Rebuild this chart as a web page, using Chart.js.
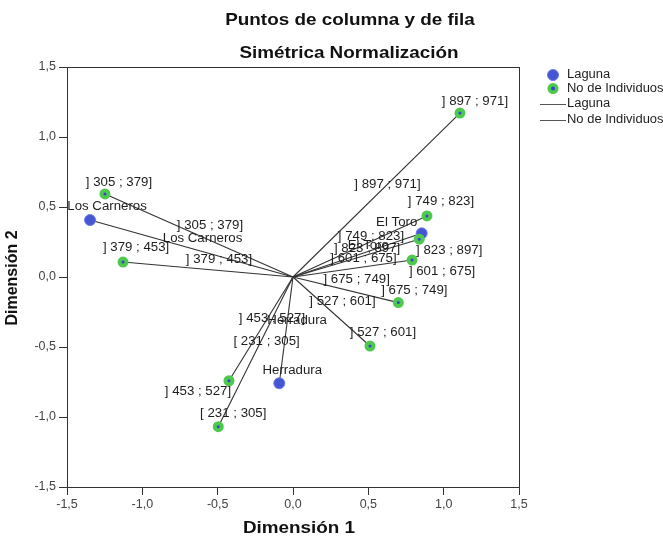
<!DOCTYPE html>
<html>
<head>
<meta charset="utf-8">
<script src="https://cdn.jsdelivr.net/npm/chart.js@4"></script>
<style>
  html, body { margin: 0; padding: 0; background: #fff; }
  #wrap { width: 663px; height: 537px; position: relative; }
</style>
</head>
<body>
<div id="wrap"><canvas id="cc"></canvas></div>
<script>
// row categories (No de Individuos) and their coordinates
const individuos = ['] 897 ; 971]', '] 305 ; 379]', '] 379 ; 453]', '] 749 ; 823]', '] 823 ; 897]',
                    '] 601 ; 675]', '] 675 ; 749]', '] 527 ; 601]', '] 453 ; 527]', '[ 231 ; 305]'];
const indDim1 = [1.108, -1.248, -1.128, 0.889, 0.838, 0.790, 0.699, 0.511, -0.425, -0.496];
const indDim2 = [1.171, 0.593, 0.107, 0.436, 0.270, 0.121, -0.183, -0.493, -0.741, -1.069];

// column categories (Laguna)
const lagunas = ['Los Carneros', 'El Toro', 'Herradura'];
const lagDim1 = [-1.347, 0.854, -0.091];
const lagDim2 = [0.407, 0.312, -0.759];

const axisTicks = [-1.5, -1.0, -0.5, 0.0, 0.5, 1.0, 1.5];

// label nudges (pixels) so the point labels sit like in the original
const indLabelShift = [[15,-12],[14,-11],[13,-14],[14,-14],[30,11],[30,11],[16,-12],[13,-13],[-31,11],[15,-13]];
const lagLabelShift = [[17,-13],[-25,-11],[13,-13]];

const LINE_COL = '#333';
const TEXT_COL = '#1e1e1e';

function stretchText(ctx, txt, x, y, font, sx, align) {
    ctx.save();
    ctx.font = font;
    ctx.textAlign = align || 'center';
    ctx.textBaseline = 'middle';
    ctx.translate(x, y);
    ctx.scale(sx, 1);
    ctx.fillText(txt, 0, 0);
    ctx.restore();
}

const lineSets = [];
individuos.forEach((n, i) => lineSets.push({
    type: 'line', data: [{x: 0, y: 0}, {x: indDim1[i], y: indDim2[i]}],
    borderColor: LINE_COL, borderWidth: 1.1, pointRadius: 0, fill: false, order: 3
}));
lagunas.forEach((n, i) => lineSets.push({
    type: 'line', data: [{x: 0, y: 0}, {x: lagDim1[i], y: lagDim2[i]}],
    borderColor: LINE_COL, borderWidth: 1.1, pointRadius: 0, fill: false, order: 3
}));

const labelsPlugin = {
    id: 'labelsPlugin',
    afterDraw(chart) {
        const ctx = chart.ctx;
        const xs = chart.scales.x, ys = chart.scales.y;
        const a = chart.chartArea;

        // frame round the plot
        ctx.save();
        ctx.strokeStyle = '#333';
        ctx.lineWidth = 1;
        ctx.strokeRect(a.left + 0.5, a.top + 0.5, a.right - a.left, a.bottom - a.top);
        ctx.restore();

        const ox = xs.getPixelForValue(0), oy = ys.getPixelForValue(0);
        const lblFont = '12.5px "Liberation Sans", Arial, sans-serif';
        ctx.fillStyle = TEXT_COL;

        const drawSet = (names, d1, d2, shifts) => {
            names.forEach((n, i) => {
                const px = xs.getPixelForValue(d1[i]), py = ys.getPixelForValue(d2[i]);
                // label at the middle of the line
                stretchText(ctx, n, (px + ox) / 2 + 11, (py + oy) / 2 - 10, lblFont, 1.06);
                // label next to the point
                stretchText(ctx, n, px + shifts[i][0], py + shifts[i][1], lblFont, 1.06);
            });
        };
        drawSet(individuos, indDim1, indDim2, indLabelShift);
        drawSet(lagunas, lagDim1, lagDim2, lagLabelShift);

        // titles
        const tFont = 'bold 17px "Liberation Sans", Arial, sans-serif';
        ctx.fillStyle = '#111';
        stretchText(ctx, 'Puntos de columna y de fila', 350, 20, tFont, 1.11);
        stretchText(ctx, 'Simétrica Normalización', 349, 53, tFont, 1.11);
        stretchText(ctx, 'Dimensión 1', 299, 528, tFont, 1.11);
        ctx.save();
        ctx.translate(13, 278);
        ctx.rotate(-Math.PI / 2);
        ctx.font = 'bold 16px "Liberation Sans", Arial, sans-serif';
        ctx.textAlign = 'center';
        ctx.textBaseline = 'middle';
        ctx.fillText('Dimensión 2', 0, 0);
        ctx.restore();

        // legend
        const lgFont = '12px "Liberation Sans", Arial, sans-serif';
        const lx = 553, tx = 567;
        ctx.save();
        ctx.beginPath(); ctx.arc(lx, 75, 5.5, 0, Math.PI * 2);
        ctx.fillStyle = '#4556d4'; ctx.fill();
        ctx.strokeStyle = '#6a7be2'; ctx.lineWidth = 1; ctx.stroke();
        ctx.beginPath(); ctx.arc(lx, 88.5, 3.75, 0, Math.PI * 2);
        ctx.fillStyle = '#3545d0'; ctx.fill();
        ctx.strokeStyle = '#4ec94e'; ctx.lineWidth = 3.5; ctx.stroke();
        ctx.strokeStyle = '#555'; ctx.lineWidth = 1;
        ctx.beginPath(); ctx.moveTo(540, 104.5); ctx.lineTo(566, 104.5); ctx.stroke();
        ctx.beginPath(); ctx.moveTo(540, 120.5); ctx.lineTo(566, 120.5); ctx.stroke();
        ctx.restore();
        ctx.fillStyle = TEXT_COL;
        stretchText(ctx, 'Laguna', tx, 75, lgFont, 1.08, 'left');
        stretchText(ctx, 'No de Individuos', tx, 89, lgFont, 1.08, 'left');
        stretchText(ctx, 'Laguna', tx, 104, lgFont, 1.08, 'left');
        stretchText(ctx, 'No de Individuos', tx, 120, lgFont, 1.08, 'left');
    }
};

const fmt = v => v.toFixed(1).replace('.', ',');

const axisCommon = {
    type: 'linear', min: -1.5, max: 1.5,
    afterBuildTicks: s => { s.ticks = axisTicks.map(v => ({value: v})); },
    ticks: { callback: fmt, color: '#444', font: {size: 12.5, family: '"Liberation Sans", Arial, sans-serif'} },
    grid: { drawOnChartArea: false, drawTicks: true, tickLength: 8, color: '#333' },
    border: { display: true, color: '#333' },
    title: { display: false }
};

new Chart(document.getElementById('cc'), {
    type: 'scatter',
    data: {
        datasets: [
            {
                label: 'No de Individuos',
                data: individuos.map((n, i) => ({x: indDim1[i], y: indDim2[i]})),
                pointRadius: 3.5, borderWidth: 4,
                pointBackgroundColor: '#3545d0', pointBorderColor: '#4ec94e', order: 1
            },
            {
                label: 'Laguna',
                data: lagunas.map((n, i) => ({x: lagDim1[i], y: lagDim2[i]})),
                pointRadius: 5.5, borderWidth: 1,
                pointBackgroundColor: '#4556d4', pointBorderColor: '#6a7be2', order: 2
            },
            ...lineSets
        ]
    },
    options: {
        responsive: true, maintainAspectRatio: false, animation: false, events: [],
        layout: { padding: { top: 67, right: 144, bottom: 0, left: 0 } },
        scales: {
            x: Object.assign({}, axisCommon, {
                ticks: Object.assign({}, axisCommon.ticks, {padding: 2, maxRotation: 0}),
                afterFit: s => { s.height = 50; }
            }),
            y: Object.assign({}, axisCommon, {
                ticks: Object.assign({}, axisCommon.ticks, {padding: 3}),
                afterFit: s => { s.width = 67; }
            })
        },
        plugins: { legend: { display: false }, tooltip: { enabled: false }, title: { display: false } }
    },
    plugins: [labelsPlugin]
});
</script>
</body>
</html>
